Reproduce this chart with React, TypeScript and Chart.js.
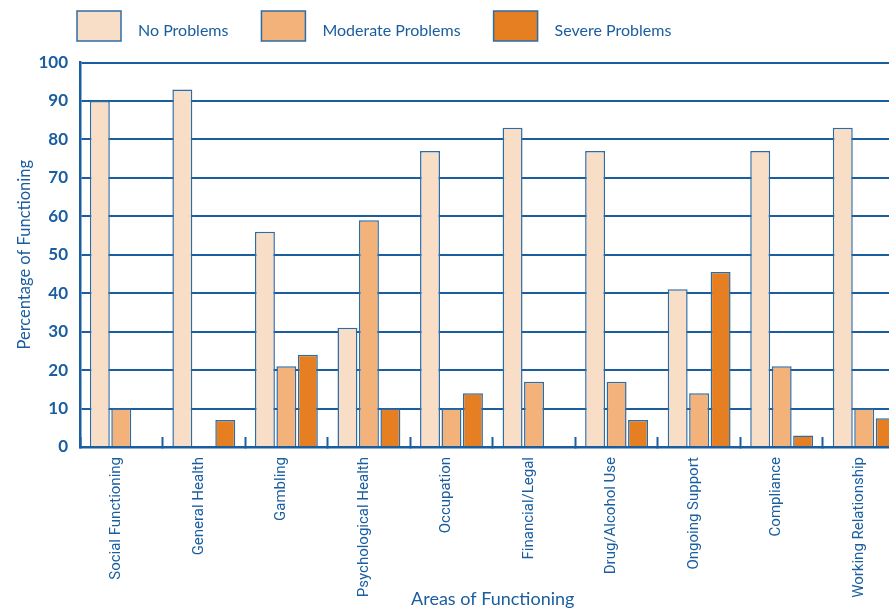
import React, { useEffect, useRef } from "react";
import { Chart, registerables } from "chart.js";

Chart.register(...registerables);

// ---- data ----
const categories = [
  "Social Functioning",
  "General Health",
  "Gambling",
  "Psychological Health",
  "Occupation",
  "Financial/Legal",
  "Drug/Alcohol Use",
  "Ongoing Support",
  "Compliance",
  "Working Relationship",
];
const noProblems = [90, 93, 56, 31, 77, 83, 77, 41, 77, 83];
const moderateProblems = [10, 0, 21, 59, 10, 17, 17, 14, 21, 10];
const severeProblems = [0, 7, 24, 10, 14, 0, 7, 45.5, 3, 7.5];
const seriesNames = ["No Problems", "Moderate Problems", "Severe Problems"];
const yTicks = [0, 10, 20, 30, 40, 50, 60, 70, 80, 90, 100];

// ---- styling ----
const BLUE = "#1b5ea0";
const BAR_EDGE = "#2e6ca6";
const FILLS = ["#f8dec6", "#f2b27a", "#e67e22"];
const CANVAS_W = 912;
const CANVAS_H = 616;
const AXIS_BOTTOM = 447;
const SANS = "Lato, 'Open Sans', sans-serif";
const LABEL_FONT = "Roboto, 'Liberation Sans', Arial, sans-serif";

// Legend drawn as a row of swatches above the plot.
const boxLegend = {
  id: "boxLegend",
  afterDraw(chart: any) {
    const { ctx } = chart;
    ctx.save();
    ctx.font = `16px ${SANS}`;
    ctx.textBaseline = "middle";
    ctx.textAlign = "left";
    let x = 77;
    const y = 11;
    const w = 44;
    const h = 30;
    chart.data.datasets.forEach((ds: any) => {
      ctx.fillStyle = ds.backgroundColor;
      ctx.fillRect(x, y, w, h);
      ctx.lineWidth = 1.5;
      ctx.strokeStyle = BAR_EDGE;
      ctx.strokeRect(x, y, w, h);
      const tx = x + w + 17;
      ctx.fillStyle = BLUE;
      ctx.fillText(ds.label, tx, y + h / 2 + 5);
      x = tx + ctx.measureText(ds.label).width + 33;
    });
    ctx.restore();
  },
};

export default function App() {
  const canvasRef = useRef<HTMLCanvasElement | null>(null);

  useEffect(() => {
    const canvas = canvasRef.current;
    if (!canvas) return;
    const values = [noProblems, moderateProblems, severeProblems];
    const chart = new Chart(canvas, {
      type: "bar",
      data: {
        labels: categories,
        datasets: values.map((data, i) => ({
          label: seriesNames[i],
          data,
          backgroundColor: FILLS[i],
          borderColor: BAR_EDGE,
          borderWidth: 1.5,
          borderSkipped: "start",
          categoryPercentage: 0.78,
          barPercentage: 0.93,
        })),
      },
      options: {
        responsive: false,
        animation: false,
        devicePixelRatio: 1,
        layout: { padding: { top: 62.5, left: 0, right: CANVAS_W - 905.5, bottom: 0 } },
        plugins: {
          legend: { display: false },
          tooltip: { enabled: false },
        },
        scales: {
          x: {
            afterFit: (scale: any) => {
              scale.height = CANVAS_H - AXIS_BOTTOM;
            },
            grid: {
              offset: true,
              drawOnChartArea: false,
              drawTicks: true,
              tickLength: -10,
              tickWidth: 2,
              tickColor: BLUE,
            },
            border: { display: true, color: BLUE, width: 2.5 },
            ticks: {
              autoSkip: false,
              minRotation: 90,
              maxRotation: 90,
              padding: 20,
              labelOffset: -5,
              color: BLUE,
              font: { family: LABEL_FONT, size: 15 },
            },
            title: {
              display: true,
              text: "Areas of Functioning",
              color: BLUE,
              font: { family: SANS, size: 18 },
              padding: { top: 0, bottom: 6 },
            },
          },
          y: {
            min: 0,
            max: 100,
            afterFit: (scale: any) => {
              scale.width = 80;
            },
            afterBuildTicks: (scale: any) => {
              scale.ticks = yTicks.map((v) => ({ value: v }));
            },
            grid: {
              drawTicks: false,
              color: BLUE,
              lineWidth: 2,
            },
            border: { display: true, color: BLUE, width: 2.5 },
            ticks: {
              padding: 12,
              color: BLUE,
              font: { family: SANS, size: 17, weight: "bold" },
            },
            title: {
              display: true,
              text: "Percentage of Functioning",
              color: BLUE,
              font: { family: SANS, size: 16.5 },
              padding: { top: 15, bottom: 0 },
            },
          },
        },
      },
      plugins: [boxLegend],
    });
    return () => chart.destroy();
  }, []);

  return (
    <div
      style={{
        position: "fixed",
        left: 0,
        top: 0,
        width: 889,
        height: 609,
        overflow: "hidden",
        background: "#ffffff",
      }}
    >
      <canvas ref={canvasRef} width={CANVAS_W} height={CANVAS_H} style={{ display: "block" }} />
    </div>
  );
}
